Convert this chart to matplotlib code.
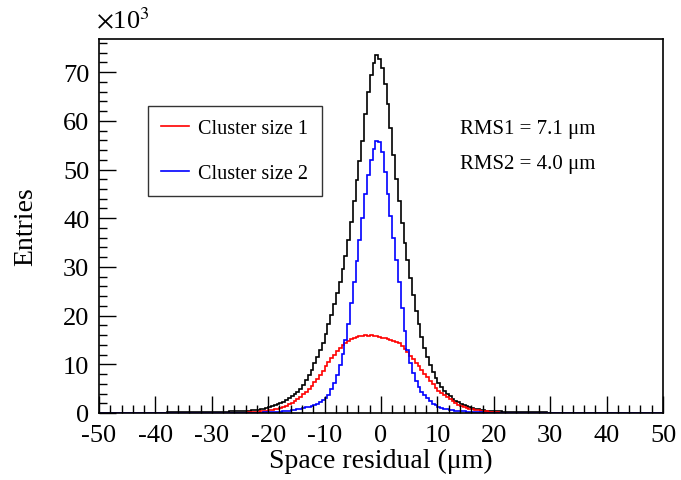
import numpy as np
import matplotlib
matplotlib.use('Agg')
import matplotlib.pyplot as plt
from matplotlib.ticker import MultipleLocator

plt.rcParams['font.family'] = ['Liberation Serif', 'DejaVu Serif']
plt.rcParams['mathtext.fontset'] = 'stix'
plt.rcParams['axes.unicode_minus'] = False

# bin edges of the shown window (0.5 um bins), counts in units of 10^3
window_lo, window_hi = -30.0, 30.0

total = [0.3, 0.3, 0.3, 0.3, 0.3, 0.3, 0.35, 0.35, 0.35, 0.4,
         0.4, 0.45, 0.5, 0.5, 0.6, 0.65, 0.7, 0.8, 0.9, 1.1,
         1.25, 1.4, 1.55, 1.75, 2.0, 2.3, 2.6, 3.0, 3.4, 3.9,
         4.4, 5.0, 5.8, 6.8, 7.8, 8.9, 10.2, 11.6, 12.9, 14.4,
         16.2, 18.2, 20.2, 22.4, 24.6, 27.0, 29.5, 32.3, 35.5, 39.2,
         43.5, 47.8, 51.8, 55.8, 61.5, 66.0, 69.5, 71.8, 73.5, 72.6,
         70.8, 67.5, 63.5, 58.5, 53.0, 48.0, 43.5, 39.0, 35.0, 31.5,
         27.8, 24.2, 21.0, 18.2, 15.6, 13.4, 11.4, 9.8, 8.4, 7.2,
         6.2, 5.3, 4.6, 4.0, 3.4, 2.9, 2.5, 2.2, 1.9, 1.6,
         1.4, 1.2, 1.0, 0.9, 0.75, 0.65, 0.55, 0.5, 0.45, 0.4,
         0.4, 0.35, 0.35, 0.3, 0.3, 0.3, 0.3, 0.25, 0.3, 0.25,
         0.25, 0.2, 0.25, 0.2, 0.2, 0.2, 0.15, 0.15, 0.15, 0.1]
# black tails outside the window: -38..-30 and 30..35
total_left_tail = [0.15, 0.2, 0.2, 0.2, 0.2, 0.25, 0.2, 0.25,
                   0.25, 0.2, 0.25, 0.3, 0.25, 0.3, 0.3, 0.3]
total_right_tail = [0.1, 0.1, 0.1, 0.05, 0.1, 0.05, 0.05, 0.05, 0.05, 0.05]

size1 = [0, 0, 0, 0, 0, 0, 0, 0, 0, 0.02,
         0.04, 0.06, 0.1, 0.15, 0.2, 0.25, 0.3, 0.35, 0.4, 0.48,
         0.56, 0.66, 0.78, 0.92, 1.08, 1.27, 1.5, 1.78, 2.1, 2.5,
         2.9, 3.35, 3.8, 4.35, 4.95, 5.6, 6.3, 7.0, 7.8, 8.7,
         9.6, 10.4, 11.2, 12.0, 12.7, 13.3, 13.9, 14.4, 14.8, 15.1,
         15.4, 15.6, 15.8, 15.9, 16.0, 15.9, 16.0, 15.9, 15.8, 15.7,
         15.5, 15.3, 15.2, 15.0, 14.8, 14.6, 14.3, 13.7, 13.1, 12.5,
         11.8, 11.1, 10.3, 9.6, 8.9, 8.1, 7.3, 6.6, 5.9, 5.2,
         4.6, 4.1, 3.6, 3.2, 2.8, 2.4, 2.0, 1.7, 1.5, 1.3,
         1.1, 0.9, 0.8, 0.7, 0.6, 0.5, 0.4, 0.35, 0.3, 0.25,
         0.2, 0.12, 0.06, 0.03, 0, 0, 0, 0, 0, 0,
         0, 0, 0, 0, 0, 0, 0, 0, 0, 0]

size2 = [0, 0, 0, 0, 0, 0, 0, 0, 0.02, 0.02,
         0.03, 0.03, 0.04, 0.05, 0.06, 0.07, 0.08, 0.1, 0.12, 0.14,
         0.16, 0.19, 0.22, 0.26, 0.3, 0.35, 0.42, 0.5, 0.6, 0.7,
         0.8, 0.9, 1.0, 1.15, 1.3, 1.45, 1.65, 1.9, 2.2, 2.6,
         3.1, 3.7, 4.9, 6.2, 7.8, 9.9, 12.2, 15.0, 18.3, 22.5,
         27.0, 31.2, 35.5, 40.0, 45.0, 48.8, 52.0, 54.2, 55.8, 55.6,
         53.5, 49.5, 45.0, 40.5, 36.0, 31.5, 27.0, 21.5, 16.8, 13.0,
         10.2, 8.2, 6.5, 5.3, 4.4, 3.7, 3.0, 2.4, 1.9, 1.6,
         1.3, 1.1, 0.9, 0.8, 0.7, 0.6, 0.5, 0.45, 0.4, 0.35,
         0.3, 0.25, 0.2, 0.18, 0.15, 0.12, 0.1, 0.08, 0.06, 0.05,
         0.04, 0.03, 0.03, 0.02, 0.02, 0.02, 0.01, 0.01, 0.01, 0,
         0, 0, 0, 0, 0, 0, 0, 0, 0, 0]

labels = ['Cluster size 1', 'Cluster size 2']
rms_text = ['RMS1 = 7.1 \u03bcm', 'RMS2 = 4.0 \u03bcm']


def full_range(vals, left=(), right=()):
    '''Pads a window of counts with zeros so it covers -50..50.'''
    out = np.zeros(200)
    start = int((window_lo + 50) / 0.5)
    out[start:start + len(vals)] = vals
    if len(left):
        out[start - len(left):start] = left
    if len(right):
        end = start + len(vals)
        out[end:end + len(right)] = right
    return out


edges = np.linspace(-50, 50, 201)

fig = plt.figure(figsize=(6.81, 4.81), dpi=100)
ax = fig.add_axes([0.1454, 0.1393, 0.8282, 0.7775])

ax.stairs(full_range(total, total_left_tail, total_right_tail), edges,
          color='black', lw=1.2)
ax.stairs(full_range(size1), edges, color='#ff0000', lw=1.2, label=labels[0])
ax.stairs(full_range(size2), edges, color='#0000ff', lw=1.2, label=labels[1])

ax.set_xlim(-50, 50)
ax.set_ylim(0, 76.8)
ax.xaxis.set_major_locator(MultipleLocator(10))
ax.xaxis.set_minor_locator(MultipleLocator(2))
ax.yaxis.set_major_locator(MultipleLocator(10))
ax.yaxis.set_minor_locator(MultipleLocator(2))
ax.tick_params(which='both', direction='in', top=False, right=False,
               labelsize=19, width=1.0)
ax.tick_params(axis='x', which='major', length=12, pad=8)
ax.tick_params(axis='y', which='major', length=12, pad=7)
ax.tick_params(which='minor', length=6)
for sp in ax.spines.values():
    sp.set_linewidth(1.2)

ax.set_xlabel('Space residual (\u03bcm)', fontsize=20, labelpad=1)
ax.set_ylabel('Entries', fontsize=20, labelpad=18)

fig.text(0.141, 0.928, r'$\times$10$^{3}$', fontsize=19, ha='left', va='bottom')

leg = ax.legend(loc='upper left', bbox_to_anchor=(0.087, 0.822),
                fontsize=14.5, frameon=True, fancybox=False, edgecolor='black',
                handlelength=1.4, handletextpad=0.45, borderpad=0.65,
                labelspacing=1.3, borderaxespad=0)
leg.get_frame().set_linewidth(1.0)

ax.text(0.64, 0.748, rms_text[0], transform=ax.transAxes, fontsize=15)
ax.text(0.64, 0.655, rms_text[1], transform=ax.transAxes, fontsize=15)

fig.savefig('out.png', dpi=100)
